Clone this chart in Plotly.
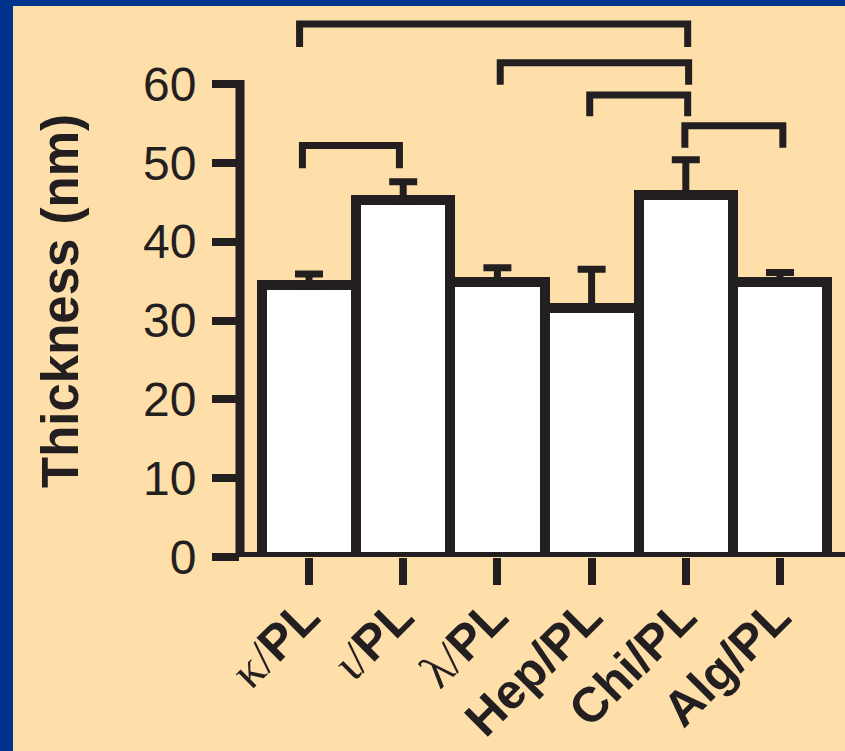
import plotly.graph_objects as go

# ---- data ----
greek = ["κ/", "ι/", "λ/", "", "", ""]
suffix = ["PL", "PL", "PL", "Hep/PL", "Chi/PL", "Alg/PL"]
means = [34.5, 45.3, 34.9, 31.6, 45.9, 34.9]
sem = [1.4, 2.3, 1.8, 4.9, 4.5, 1.2]
y_ticks = [0, 10, 20, 30, 40, 50, 60]

# significance brackets (x in category index units, y in nm)
br_x0 = [-0.10, 2.03, 2.98, 3.99, -0.07]
br_x1 = [4.02, 4.03, 4.02, 5.03, 0.96]
br_top = [67.6, 62.7, 58.6, 54.7, 52.2]
br_end = [64.7, 59.9, 55.9, 51.9, 49.3]

INK = "#231f20"
BG = "#fedea9"
BLUE = "#00338d"

xpos = list(range(len(means)))
labels = []
for g, s in zip(greek, suffix):
    if g:
        labels.append(f"<span style='font-family:Liberation Serif;font-weight:normal'>{g}</span>{s}")
    else:
        labels.append(s)

fig = go.Figure()
fig.add_trace(go.Bar(
    x=xpos, y=means, width=1.0,
    marker=dict(color="white", line=dict(color=INK, width=10)),
    error_y=dict(type="data", array=sem, arrayminus=[0] * len(sem), symmetric=False,
                 color=INK, thickness=7, width=14),
    showlegend=False, hoverinfo="skip",
))
for a, b, t, e in zip(br_x0, br_x1, br_top, br_end):
    fig.add_trace(go.Scatter(
        x=[a, a, b, b], y=[e, t, t, e], mode="lines",
        line=dict(color=INK, width=7), showlegend=False, hoverinfo="skip",
    ))

L, T, B = 240, 6, 194
W, H = 845, 751
plot_w = W - L
px_per_cat = 94.2
x_left = -(309 - L) / px_per_cat
x_right = x_left + plot_w / px_per_cat
px_per_nm = (557 - 84) / 60.0
y_top = (H - B - T) / px_per_nm

shapes = [
    # axis lines
    dict(type="line", xref="paper", yref="y", x0=0, x1=0, y0=0, y1=60.5,
         line=dict(color=INK, width=9), layer="above"),
    dict(type="line", xref="paper", yref="y", x0=-4 / plot_w, x1=1, y0=0, y1=0,
         line=dict(color=INK, width=10), layer="above"),
    # blue frame
    dict(type="rect", xref="paper", yref="paper", x0=-L / plot_w, x1=(13 - L) / plot_w,
         y0=-B / (H - B - T), y1=(H - B) / (H - B - T), fillcolor=BLUE, line=dict(width=0),
         layer="above"),
    dict(type="rect", xref="paper", yref="paper", x0=-L / plot_w, x1=1,
         y0=1, y1=(H - B) / (H - B - T), fillcolor=BLUE, line=dict(width=0), layer="above"),
]

fig.update_layout(
    width=W, height=H, autosize=False,
    margin=dict(l=L, r=0, t=T, b=B, pad=0, autoexpand=False),
    paper_bgcolor=BG, plot_bgcolor=BG,
    bargap=0,
    shapes=shapes,
    font=dict(family="Liberation Sans, Arial, sans-serif", color=INK),
    xaxis=dict(range=[x_left, x_right], tickmode="array", tickvals=xpos, ticktext=labels,
               ticks="outside", ticklen=27, tickwidth=8, tickcolor=INK,
               tickangle=-45, tickfont=dict(size=49, weight="bold", color=INK),
               ticklabelstandoff=-17, ticklabelshift=-4,
               showgrid=False, zeroline=False, showline=False, fixedrange=True,
               automargin=False),
    yaxis=dict(range=[0, y_top], tickmode="array", tickvals=y_ticks,
               ticks="outside", ticklen=27, tickwidth=8, tickcolor=INK,
               tickfont=dict(size=48, color=INK), ticklabelstandoff=6,
               showgrid=False, zeroline=False, showline=False, fixedrange=True,
               automargin=False),
    annotations=[dict(text="<b>Thickness (nm)</b>", textangle=-90, showarrow=False,
                      xref="paper", yref="paper", x=0, xshift=-(L - 60),
                      y=(557 - 301) / (H - B - T), xanchor="center", yanchor="middle",
                      font=dict(size=51, color=INK))],
)

fig.write_html("out.html", config={"displayModeBar": False},
               post_script="document.body.style.margin='0';document.body.style.overflow='hidden';")
